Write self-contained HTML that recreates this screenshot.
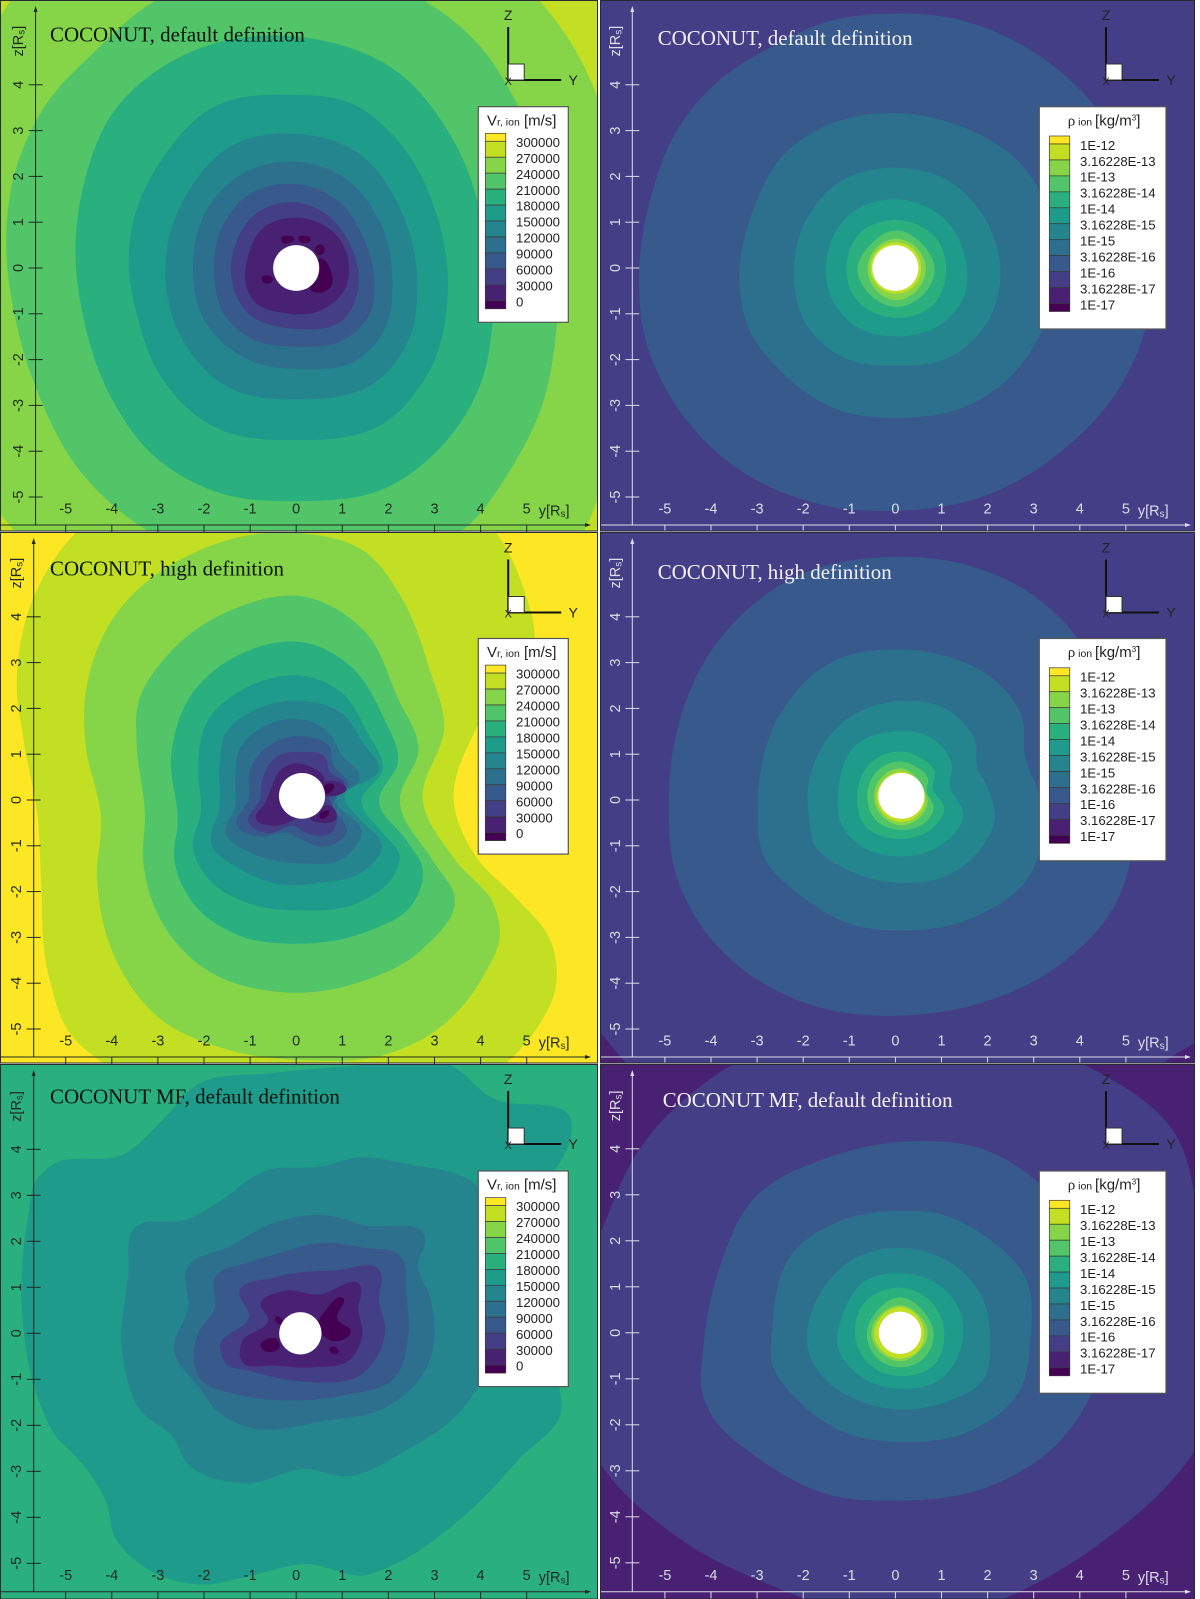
<!DOCTYPE html>
<html lang="en">
<head>
<meta charset="utf-8">
<title>COCONUT radial velocity and density contours</title>
<style>
html,body{margin:0;padding:0;background:#fff;}
svg{display:block;font-family:"Liberation Sans",sans-serif;}
</style>
</head>
<body>
<svg id="figure" xmlns="http://www.w3.org/2000/svg" width="1200" height="1599" viewBox="0 0 1200 1599"></svg>
<script>
const bandColors = ['#440154','#482173','#433e85','#38598c','#2d708e','#25858e','#1e9b8a','#2ab07f','#52c569','#86d549','#c2df23','#fde725'];
const xTickValues = [-5,-4,-3,-2,-1,0,1,2,3,4,5];
const zTickValues = [-5,-4,-3,-2,-1,0,1,2,3,4];
const vrLegendLabels = ['300000','270000','240000','210000','180000','150000','120000','90000','60000','30000','0'];
const rhoLegendLabels = ['1E-12','3.16228E-13','1E-13','3.16228E-14','1E-14','3.16228E-15','1E-15','3.16228E-16','1E-16','3.16228E-17','1E-17'];

/* Panel 1: Vr, COCONUT default definition. Contours are [y, z] in solar radii. */
const vrDefaultBackground = 10;
const vrDefaultBands = [9,8,7,6,5,4,3,2,1,0,0,0,0,0];
const vrDefaultContours = [
 [[5.27,5.85],[6.43,4.0],[6.9,1.5],[7.0,-1.5],[6.6,-4.8],[6.29,-5.65],[5.6,-6.5],[0,-7.6],[-5.6,-6.5],[-6.19,-5.65],[-6.44,-5.35],[-7,-3],[-7.2,0],[-7,3],[-6.44,5.44],[-6.19,5.85],[-5.6,6.4],[-2,7.6],[2,7.6],[4.5,6.6]],
 [[-3.03,5.85],[-4.4,4.7],[-5.36,3.67],[-6.1,2.09],[-6.29,0.44],[-6.1,-1.07],[-5.69,-2.5],[-4.61,-4.53],[-3.36,-5.65],[0,-6.6],[3.7,-5.65],[4.65,-4.4],[5.31,-3.07],[5.65,-1.3],[5.54,1.64],[4.79,3.59],[3.96,4.87],[2.75,5.85],[0,6.45]],
 [[0.13,5.04],[-2.28,4.72],[-3.94,3.44],[-4.65,1.64],[-4.79,0.29],[-4.65,-0.92],[-4.03,-2.8],[-3.11,-4.08],[-1.7,-4.9],[0.05,-5.09],[1.88,-4.83],[3.13,-3.92],[4.04,-2.42],[4.25,-1.29],[4.13,0.59],[3.38,2.84],[2.21,4.27]],
 [[-0.03,3.78],[-1.78,3.52],[-2.95,2.32],[-3.53,1.04],[-3.63,-0.02],[-3.44,-1.07],[-2.95,-2.35],[-1.78,-3.47],[-0.03,-3.76],[1.88,-3.4],[2.88,-2.27],[3.29,-0.39],[3.04,1.19],[2.21,2.77],[1.21,3.59]],
 [[0,2.93],[-1.36,2.69],[-2.36,1.64],[-2.84,-0.09],[-2.53,-1.44],[-1.53,-2.57],[0.05,-2.87],[1.71,-2.5],[2.46,-1.52],[2.63,-0.47],[2.3,1.19],[1.3,2.54]],
 [[0,2.32],[-1.11,2.09],[-1.95,1.26],[-2.24,0.06],[-2.03,-1.07],[-1.11,-1.97],[0.05,-2.21],[1.38,-1.97],[2.0,-1.14],[2.09,-0.39],[1.8,1.04],[0.97,2.02]],
 [[0,1.83],[-1.03,1.6],[-1.61,0.89],[-1.78,-0.09],[-1.53,-1.07],[-0.87,-1.59],[-0.03,-1.72],[1.05,-1.56],[1.63,-0.92],[1.7,-0.39],[1.46,0.66],[0.88,1.49]],
 [[0,1.43],[-0.87,1.19],[-1.32,0.51],[-1.41,-0.17],[-1.11,-0.92],[-0.03,-1.33],[1.05,-1.1],[1.34,-0.47],[1.13,0.59],[0.63,1.19]],
 [[0,1.1],[-0.7,0.89],[-1.07,0.14],[-1.11,-0.24],[-0.87,-0.77],[-0.28,-0.98],[0.47,-0.95],[1.05,-0.47],[0.97,0.59],[0.55,0.96]],
 [[-0.32,0.66],[-0.17,0.7],[-0.04,0.65],[-0.17,0.54],[-0.3,0.55]],
 [[0.05,0.67],[0.2,0.7],[0.32,0.62],[0.2,0.54],[0.08,0.58]],
 [[0.42,0.44],[0.52,0.52],[0.62,0.42],[0.52,0.28],[0.42,0.32]],
 [[0.51,0.21],[0.76,-0.09],[0.76,-0.39],[0.47,-0.54],[0.3,-0.47],[0.47,-0.24]],
 [[-0.75,-0.2],[-0.62,-0.16],[-0.5,-0.24],[-0.55,-0.32],[-0.72,-0.3]]
];

/* Panel 2: density, COCONUT default definition. */
const rhoDefaultBackground = 2;
const rhoDefaultBands = [3,4,5,6,7,8,9,10];
const rhoDefaultContours = [
 [[0.02,5.56],[-1.4,5.4],[-2.65,4.85],[-3.89,4.04],[-4.8,2.9],[-5.26,1.71],[-5.56,-0.17],[-5.43,-1.53],[-4.64,-3.18],[-3.06,-4.61],[-1.4,-5.21],[0.02,-5.3],[1.93,-4.98],[3.59,-4.01],[4.84,-2.65],[5.51,-0.92],[5.42,0.9],[4.34,3.51],[2.76,4.86],[1.51,5.39]],
 [[0.02,3.38],[-1.4,3.15],[-2.4,2.5],[-3.06,1.33],[-3.38,-0.32],[-3.19,-1.3],[-2.48,-2.26],[-1.23,-3.1],[0.02,-3.27],[1.51,-3.03],[2.68,-2.17],[3.34,-0.92],[3.5,-0.02],[3.34,1.18],[2.76,2.23],[1.51,3.06]],
 [[0.02,2.19],[-1.23,1.86],[-1.98,0.95],[-2.2,-0.25],[-1.98,-1.15],[-1.06,-1.98],[0.02,-2.13],[1.1,-1.98],[2.01,-1.15],[2.28,-0.1],[2.01,0.95],[1.1,1.93]],
 [[0.02,1.5],[-0.98,1.18],[-1.48,0.28],[-1.4,-0.62],[-0.82,-1.3],[0.02,-1.49],[0.93,-1.26],[1.51,-0.55],[1.53,0.13],[1.1,1.03]],
 [[0.02,1.05],[-0.73,0.8],[-1.06,0.05],[-0.9,-0.62],[0.02,-1.09],[0.85,-0.77],[1.1,-0.1],[0.93,0.58]],
 [[0.02,0.82],[-0.55,0.5],[-0.82,-0.02],[-0.55,-0.58],[0.02,-0.85],[0.6,-0.58],[0.85,-0.02],[0.6,0.5]],
 [[0.02,0.64],[-0.45,0.4],[-0.6,-0.02],[-0.45,-0.45],[0.02,-0.7],[0.5,-0.45],[0.66,-0.02],[0.5,0.4]],
 [[0.02,0.56],[-0.4,0.38],[-0.54,0],[-0.4,-0.38],[0.02,-0.56],[0.42,-0.38],[0.56,0],[0.42,0.38]]
];

/* Panel 3: Vr, COCONUT high definition. */
const vrHighBackground = 11;
const vrHighBands = [10,9,8,7,6,5,4,3,2,1,1,1,0,0];
const vrHighContours = [
 [[-4.73,5.89],[-5.61,4.62],[-6.06,2.44],[-5.9,1.23],[-5.61,-0.35],[-5.54,-1.62],[-5.36,-3.88],[-4.86,-5.16],[-4.28,-5.68],[0,-6.5],[4.63,-5.68],[5.21,-5.0],[5.64,-4.03],[5.54,-3.13],[4.71,-2.08],[3.96,-1.32],[3.42,-0.05],[3.96,1.68],[5.17,3.56],[4.96,4.54],[4.29,5.89],[0,6.65]],
 [[0.05,5.83],[-2.28,5.37],[-3.94,4.02],[-4.59,2.14],[-4.57,1.23],[-4.23,-0.42],[-4.32,-1.7],[-4.03,-3.2],[-2.95,-4.78],[-1.45,-5.46],[0.22,-5.68],[1.88,-5.57],[2.96,-5.08],[4.04,-3.88],[4.42,-2.9],[4.29,-2.3],[3.46,-1.32],[2.75,-0.05],[3.21,1.65],[2.88,2.89],[2.3,4.39],[1.46,5.44]],
 [[0.22,4.43],[-1.45,4.13],[-2.7,3.26],[-3.44,2.06],[-3.46,1.23],[-3.28,-0.35],[-3.32,-1.32],[-2.95,-2.6],[-2.03,-3.65],[-0.28,-4.2],[1.46,-3.95],[2.71,-3.28],[3.44,-2.15],[2.96,-1.32],[2.25,-0.05],[2.65,1.16],[2.21,2.21],[1.46,3.71]],
 [[0.22,3.43],[-1.28,3.15],[-2.28,2.29],[-2.71,1.01],[-2.57,-0.5],[-2.65,-1.25],[-2.2,-2.3],[-1.28,-2.94],[0.05,-3.14],[1.46,-2.9],[2.55,-2.23],[2.75,-1.55],[2.38,-0.87],[1.8,-0.05],[2.21,0.86],[1.88,1.83],[1.21,2.89]],
 [[0.22,2.7],[-1.11,2.44],[-1.95,1.68],[-2.13,0.78],[-2.07,-0.27],[-2.24,-1.02],[-1.86,-1.77],[-1.03,-2.26],[0.05,-2.41],[1.3,-2.26],[2.13,-1.62],[2.25,-1.25],[1.88,-0.72],[1.42,-0.05],[1.88,0.71],[1.55,1.46],[0.97,2.36]],
 [[0.22,2.16],[-0.87,1.98],[-1.53,1.46],[-1.66,0.78],[-1.66,-0.12],[-1.82,-1.02],[-1.28,-1.47],[-0.28,-1.85],[0.47,-1.81],[1.46,-1.55],[1.86,-1.02],[1.38,-0.42],[1.05,0.03],[1.8,0.71],[1.46,1.23],[0.97,1.91]],
 [[0.22,1.74],[-0.7,1.61],[-1.24,1.08],[-1.32,0.48],[-1.32,-0.12],[-1.53,-0.72],[-0.95,-1.17],[0.05,-1.38],[1.05,-1.25],[1.42,-0.72],[0.88,0.03],[1.38,0.48],[0.97,1.01],[0.72,1.46]],
 [[0.22,1.38],[-0.53,1.23],[-0.99,0.71],[-1.03,0.03],[-1.28,-0.57],[-0.78,-0.8],[-0.2,-0.72],[0.13,-0.87],[0.55,-1.02],[1.09,-0.72],[0.8,-0.05],[1.13,0.33],[0.8,0.78],[0.72,1.16]],
 [[0.13,1.05],[-0.45,0.93],[-0.74,0.41],[-0.78,0.03],[-1.03,-0.5],[-0.62,-0.72],[-0.03,-0.57],[0.22,-0.72],[0.8,-0.68],[0.88,-0.35],[0.72,0.11],[1.05,0.33],[0.72,0.63],[0.63,0.93]],
 [[-0.03,0.8],[-0.32,0.67],[-0.53,0.29],[-0.66,-0.05],[-0.87,-0.42],[-0.53,-0.56],[-0.03,-0.42],[0.63,0.33],[0.59,0.52],[0.34,0.71]],
 [[0.3,-0.38],[0.55,-0.5],[0.88,-0.38],[0.72,-0.12],[0.47,-0.2]],
 [[0.55,0.33],[0.95,0.38],[1.08,0.28],[0.72,0.08],[0.55,0.12]],
 [[0.6,0.3],[0.82,0.32],[0.72,0.16],[0.58,0.16]],
 [[0.5,-0.34],[0.72,-0.26],[0.66,-0.36],[0.52,-0.4]]
];

/* Panel 4: density, COCONUT high definition. */
const rhoHighBackground = 1;
const rhoHighBands = [2,3,4,5,6,7,8,9,10];
const rhoHighContours = [
 [[-7,6],[0,8],[7,6],[7.6,0],[7.1,-4.4],[6.59,-5.22],[6.0,-5.6],[5.0,-6.6],[0,-8],[-5,-6.6],[-5.97,-5.6],[-6.39,-5.08],[-7,-4.4],[-7.6,0]],
 [[0.1,5.31],[-2.23,4.84],[-3.89,3.41],[-4.8,1.23],[-4.92,-0.05],[-4.76,-1.62],[-4.31,-2.6],[-3.06,-3.88],[-1.4,-4.59],[0.02,-4.71],[1.93,-4.41],[3.59,-3.58],[4.76,-2.3],[5.17,-0.87],[4.84,1.38],[3.93,3.56],[2.76,4.62],[1.51,5.14]],
 [[0.1,3.29],[-1.4,3.0],[-2.48,1.91],[-2.98,0.03],[-2.81,-1.32],[-2.06,-2.08],[-1.06,-2.68],[0.1,-2.85],[1.6,-2.6],[2.93,-1.62],[3.18,-0.12],[2.8,1.01],[2.76,1.76],[2.1,2.66],[1.1,3.14]],
 [[0.1,2.16],[-1.06,1.76],[-1.86,0.48],[-1.86,-0.5],[-1.77,-0.95],[-1.06,-1.51],[0.1,-1.81],[1.1,-1.66],[1.93,-0.95],[2.14,-0.5],[1.93,0.41],[1.8,0.63],[1.72,1.31],[1.1,1.98]],
 [[0.02,1.5],[-0.9,1.16],[-1.23,0.26],[-1.15,-0.57],[-0.57,-1.1],[0.1,-1.23],[0.93,-1.02],[1.47,-0.35],[1.18,0.33],[1.22,0.78],[0.85,1.31]],
 [[0.1,1.06],[-0.57,0.78],[-0.83,0.11],[-0.65,-0.57],[0.1,-0.85],[0.85,-0.57],[1.06,-0.2],[0.81,0.26],[0.85,0.63],[0.6,0.89]],
 [[0.1,0.84],[-0.4,0.63],[-0.61,0.11],[-0.44,-0.42],[0.1,-0.65],[0.64,-0.5],[0.83,-0.16],[0.68,0.18],[0.7,0.48],[0.43,0.74]],
 [[0.13,0.69],[-0.37,0.4],[-0.46,0.03],[-0.33,-0.3],[0.13,-0.55],[0.6,-0.3],[0.7,-0.05],[0.62,0.22],[0.5,0.45]],
 [[0.13,0.62],[-0.3,0.38],[-0.41,0.06],[-0.28,-0.28],[0.13,-0.48],[0.54,-0.28],[0.64,0.06],[0.52,0.38]]
];

/* Panel 5: Vr, COCONUT MF default definition. */
const vrMfBackground = 7;
const vrMfBands = [6,5,4,3,2,1,0,0,0,0];
const vrMfContours = [
 [[1.06,5.8],[3.39,5.8],[4.22,5.13],[5.97,4.6],[5.8,3.85],[5.38,3.32],[4.05,2.57],[3.47,1.67],[3.89,1.29],[4.8,0.69],[5.72,-1.26],[5.76,-1.6],[4.8,-2.77],[3.55,-4.05],[2.14,-5.02],[1.56,-5.25],[0.22,-5.02],[-1.19,-5.32],[-1.94,-5.46],[-3.27,-5.1],[-3.94,-4.42],[-4.1,-3.74],[-4.77,-2.69],[-5.18,-2.28],[-5.6,-1.41],[-5.93,0.24],[-5.81,2.57],[-5.64,3.32],[-5.35,3.62],[-3.69,3.92],[-2.94,4.6],[-2.1,5.43],[-0.61,5.65]],
 [[1.47,3.83],[0.47,3.62],[-0.61,3.55],[-1.77,2.8],[-2.35,2.48],[-3.52,2.27],[-3.64,1.29],[-3.77,-0.44],[-3.35,-1.71],[-2.69,-2.24],[-2.35,-2.84],[-1.11,-3.26],[0.22,-2.95],[1.06,-3.11],[2.39,-2.54],[3.47,-1.79],[3.97,-1.11],[4.22,0.69],[3.97,3.17],[2.3,3.7]],
 [[0.64,2.57],[-0.61,2.35],[-1.44,1.89],[-2.35,1.44],[-2.35,0.54],[-2.65,-0.36],[-2.1,-1.19],[-1.69,-1.71],[-1.11,-2.02],[0.64,-1.9],[1.89,-1.64],[2.8,-0.81],[2.89,0.84],[2.64,1.44],[2.8,2.08],[1.47,2.35]],
 [[0.64,1.97],[-0.61,1.67],[-1.11,1.52],[-1.73,1.26],[-1.77,0.54],[-2.15,-0.06],[-2.1,-0.96],[-1.27,-1.34],[-0.44,-1.45],[1.06,-1.34],[2.14,-0.96],[2.43,-0.06],[2.39,0.84],[2.26,1.67],[1.47,1.86]],
 [[1.8,1.37],[0.89,1.37],[-0.44,1.22],[-1.23,0.9],[-1.02,0.39],[-1.65,-0.29],[-1.52,-0.66],[-1.02,-0.81],[0.06,-1.04],[1.47,-0.85],[1.93,0.09],[1.8,0.69]],
 [[1.39,1.03],[0.47,0.84],[-0.27,0.92],[-0.77,0.62],[-0.61,0.32],[-1.19,-0.21],[-1.19,-0.59],[-0.44,-0.7],[0.39,-0.74],[1.14,-0.59],[1.43,-0.06],[1.35,0.54]],
 [[1.01,0.77],[0.64,0.5],[0.47,0.17],[0.89,-0.17],[1.18,0.02],[0.89,0.32]],
 [[-0.77,-0.29],[-0.4,-0.14],[-0.36,-0.29],[-0.69,-0.38]],
 [[0.72,-0.32],[0.85,-0.3],[0.92,-0.4],[0.78,-0.44]],
 [[-0.44,0.36],[-0.3,0.3],[-0.28,0.2],[-0.44,0.26]]
];

/* Panel 6: density, COCONUT MF default definition. */
const rhoMfBackground = 1;
const rhoMfBands = [2,3,4,5,6,7,8,9,10];
const rhoMfContours = [
 [[-3.6,5.79],[-5.56,3.98],[-6.39,2.18],[-7.22,-0.08],[-6.39,-2.86],[-4.73,-4.44],[-1.98,-5.78],[0.02,-6.47],[2.35,-5.78],[4.43,-4.59],[6.59,-2.41],[7.42,-0.08],[6.59,2.63],[6.09,4.29],[4.18,5.79],[0.27,6.69]],
 [[0.27,4.16],[-1.4,3.83],[-3.06,2.93],[-3.81,1.43],[-4.18,-0.45],[-4.21,-1.2],[-4.06,-1.65],[-2.9,-2.78],[-1.4,-3.53],[0.02,-3.65],[1.93,-3.38],[3.59,-2.33],[4.26,-1.28],[4.34,0.68],[3.43,2.93],[1.93,3.98]],
 [[0.1,2.65],[-1.06,2.48],[-2.23,1.73],[-2.67,0.08],[-2.67,-0.68],[-2.15,-1.43],[-1.06,-2.18],[0.18,-2.37],[1.51,-2.18],[2.68,-1.28],[2.93,-0.08],[2.85,1.13],[1.93,2.11],[0.93,2.59]],
 [[0.18,1.84],[-0.82,1.65],[-1.56,0.98],[-1.84,-0.53],[-1.48,-1.05],[-0.73,-1.5],[0.1,-1.67],[1.1,-1.5],[1.93,-0.98],[2.05,-0.23],[1.85,0.83],[1.1,1.58]],
 [[0.18,1.29],[-0.65,1.13],[-1.15,0.38],[-1.25,-0.3],[-0.9,-0.83],[0.1,-1.22],[1.01,-0.98],[1.43,-0.3],[1.43,0.38],[0.93,1.05]],
 [[0.1,0.98],[-0.65,0.68],[-0.86,-0.15],[-0.57,-0.68],[0.1,-0.94],[0.85,-0.68],[1.06,-0.08],[0.77,0.68]],
 [[0.1,0.77],[-0.42,0.45],[-0.62,-0.02],[-0.4,-0.55],[0.1,-0.75],[0.62,-0.55],[0.83,-0.02],[0.62,0.45]],
 [[0.1,0.6],[-0.32,0.4],[-0.52,-0.02],[-0.33,-0.42],[0.1,-0.62],[0.5,-0.42],[0.7,-0.02],[0.5,0.4]],
 [[0.1,0.56],[-0.3,0.36],[-0.46,0],[-0.3,-0.38],[0.1,-0.56],[0.5,-0.38],[0.62,0],[0.48,0.36]]
];

const panels = [
 {key:'vr-default', title:'COCONUT, default definition', titleX:50, titleY:41.5, kind:'vr', bg:vrDefaultBackground, bands:vrDefaultBands, contours:vrDefaultContours, sun:[0,0,0.5],
  left:0, top:1, w:598, h:530, x0:296.2, z0:268, uz:45.8, axisX:35.6, axisY:525, legX:478.3, legY:106.7, triX:508.2, triY:80, rowShift:0},
 {key:'rho-default', title:'COCONUT, default definition', titleX:657.7, titleY:45, kind:'rho', bg:rhoDefaultBackground, bands:rhoDefaultBands, contours:rhoDefaultContours, sun:[0,0,0.5],
  left:600, top:1, w:595, h:530, x0:895.4, z0:268, uz:45.8, axisX:632.3, axisY:525, legX:1039.3, legY:106.7, triX:1106, triY:80, rowShift:0},
 {key:'vr-high', title:'COCONUT, high definition', titleX:50, titleY:575.5, kind:'vr', bg:vrHighBackground, bands:vrHighBands, contours:vrHighContours, sun:[0.126,0.09,0.5],
  left:0, top:533, w:598, h:530, x0:296.2, z0:800, uz:45.8, axisX:33.7, axisY:1057, legX:478.3, legY:638.5, triX:508.2, triY:612.5, rowShift:532},
 {key:'rho-high', title:'COCONUT, high definition', titleX:657.7, titleY:579, kind:'rho', bg:rhoHighBackground, bands:rhoHighBands, contours:rhoHighContours, sun:[0.13,0.09,0.5],
  left:600, top:533, w:595, h:530, x0:895.4, z0:800, uz:45.8, axisX:632.3, axisY:1057, legX:1039.3, legY:638.5, triX:1106, triY:612.5, rowShift:532},
 {key:'vr-mf', title:'COCONUT MF, default definition', titleX:50, titleY:1103.3, kind:'vr', bg:vrMfBackground, bands:vrMfBands, contours:vrMfContours, sun:[0.09,0,0.46],
  left:0, top:1065, w:598, h:534, x0:296.2, z0:1333.3, uz:46, axisX:33.7, axisY:1591.7, legX:478.3, legY:1171, triX:508.2, triY:1144, rowShift:1064},
 {key:'rho-mf', title:'COCONUT MF, default definition', titleX:662.7, titleY:1106.8, kind:'rho', bg:rhoMfBackground, bands:rhoMfBands, contours:rhoMfContours, sun:[0.1,0,0.46],
  left:600, top:1065, w:595, h:534, x0:895.4, z0:1332.8, uz:46, axisX:632.3, axisY:1591.7, legX:1039.3, legY:1171, triX:1106, triY:1144, rowShift:1064}
];

const NS = 'http://www.w3.org/2000/svg';
const X_UNIT = 46.1;
const figure = document.getElementById('figure');

function make(tag, attrs, parent, text) {
  const el = document.createElementNS(NS, tag);
  for (const k in attrs) el.setAttribute(k, attrs[k]);
  if (text !== undefined) el.textContent = text;
  parent.appendChild(el);
  return el;
}

/* Closed spline through the points with chord-weighted (Bessel) tangents, so
   unevenly spaced points still give round curves without overshoot. */
function smoothClosedPath(points) {
  const n = points.length;
  const seg = points.map((p, i) => {
    const q = points[(i + 1) % n];
    return Math.max(Math.hypot(q[0] - p[0], q[1] - p[1]), 0.01);
  });
  const tangents = points.map((p, i) => {
    const prev = points[(i - 1 + n) % n], next = points[(i + 1) % n];
    const d0 = seg[(i - 1 + n) % n], d1 = seg[i];
    const tx = (d1 * (p[0] - prev[0]) / d0 + d0 * (next[0] - p[0]) / d1) / (d0 + d1);
    const ty = (d1 * (p[1] - prev[1]) / d0 + d0 * (next[1] - p[1]) / d1) / (d0 + d1);
    const len = Math.max(Math.hypot(tx, ty), 0.0001);
    return [tx / len, ty / len];
  });
  let d = 'M' + points[0][0].toFixed(1) + ' ' + points[0][1].toFixed(1);
  for (let i = 0; i < n; i++) {
    const j = (i + 1) % n, h = seg[i] / 3;
    const c1x = points[i][0] + tangents[i][0] * h, c1y = points[i][1] + tangents[i][1] * h;
    const c2x = points[j][0] - tangents[j][0] * h, c2y = points[j][1] - tangents[j][1] * h;
    d += 'C' + c1x.toFixed(1) + ' ' + c1y.toFixed(1) + ' ' + c2x.toFixed(1) + ' ' + c2y.toFixed(1) + ' ' + points[j][0].toFixed(1) + ' ' + points[j][1].toFixed(1);
  }
  return d + 'Z';
}

function drawPanel(p) {
  const xScale = v => p.x0 + X_UNIT * v;
  const zScale = v => p.z0 - p.uz * v;
  const light = p.kind === 'rho';
  const axisColor = light ? '#dcdde8' : '#1f2a20';

  const g = make('g', {}, figure);
  
  

  const defs = make('defs', {}, g);
  const clip = make('clipPath', {id: 'clip-' + p.key}, defs);
  make('rect', {x: p.left, y: p.top, width: p.w, height: p.h}, clip);

  const plot = make('g', {'clip-path': 'url(#clip-' + p.key + ')'}, g);
  
  

  const bg = make('rect', {x: p.left, y: p.top, width: p.w, height: p.h, fill: bandColors[p.bg]}, plot);
  
  

  p.contours.forEach((contour, i) => {
    const pts = contour.map(c => [xScale(c[0]), zScale(c[1])]);
    const band = make('path', {d: smoothClosedPath(pts), fill: bandColors[p.bands[i]]}, plot);
    
    
  });

  const sun = make('ellipse', {cx: xScale(p.sun[0]), cy: zScale(p.sun[1]), rx: p.sun[2] * X_UNIT, ry: p.sun[2] * p.uz, fill: '#fff'}, plot);
  
  

  /* Axes */
  const xAxis = make('line', {x1: p.left, x2: p.left + 585, y1: p.axisY, y2: p.axisY, stroke: axisColor, 'stroke-width': 1}, g);
  
  
  const xHead = make('path', {d: 'M' + (p.left + 591) + ' ' + p.axisY + 'l-6 -2v4z', fill: axisColor}, g);
  
  
  const yTop = p.top + 5;
  const yAxis = make('line', {x1: p.axisX, x2: p.axisX, y1: yTop + 5, y2: p.axisY, stroke: axisColor, 'stroke-width': 1}, g);
  
  
  const yHead = make('path', {d: 'M' + p.axisX + ' ' + yTop + 'l-2 6h4z', fill: axisColor}, g);
  
  

  xTickValues.forEach(v => {
    const tick = make('line', {x1: xScale(v), x2: xScale(v), y1: p.axisY, y2: p.axisY + 7, stroke: axisColor, 'stroke-width': 1}, g);
    
    
    const label = make('text', {x: xScale(v), y: p.axisY - 11.5, 'text-anchor': 'middle', 'font-size': 14.5, fill: axisColor}, g, String(v));
    
    
  });
  zTickValues.forEach(v => {
    const tick = make('line', {x1: p.axisX - 7, x2: p.axisX + 7, y1: zScale(v), y2: zScale(v), stroke: axisColor, 'stroke-width': 1}, g);
    
    
    const lx = p.axisX - 12.5, ly = zScale(v);
    const label = make('text', {x: lx, y: ly, 'text-anchor': 'middle', 'font-size': 14.5, fill: axisColor, transform: 'rotate(-90 ' + lx + ' ' + ly + ')'}, g, String(v));
    
    
  });

  const yTitle = make('text', {x: xScale(5) + 12, y: p.axisY - 9.5, 'font-size': 14.5, fill: axisColor}, g);
  
  
  make('tspan', {}, yTitle, 'y[R');
  make('tspan', {'font-size': 10, dy: 1.5}, yTitle, 's');
  make('tspan', {dy: -1.5}, yTitle, ']');

  const tx = p.axisX - 12.5, ty = p.z0 - 211.5;
  const zTitle = make('text', {x: tx, y: ty, 'font-size': 14.5, fill: axisColor, transform: 'rotate(-90 ' + tx + ' ' + ty + ')'}, g);
  
  
  make('tspan', {}, zTitle, 'z[R');
  make('tspan', {'font-size': 10, dy: 1.5}, zTitle, 's');
  make('tspan', {dy: -1.5}, zTitle, ']');

  /* Title */
  const title = make('text', {x: p.titleX, y: p.titleY, 'font-size': 20.95, 'font-family': '"Liberation Serif",serif', fill: light ? '#f2f2f6' : '#0a140e'}, g, p.title);
  
  

  /* Orientation triad */
  const triad = make('g', {stroke: '#111', 'stroke-width': 2, fill: 'none'}, g);
  
  
  make('line', {x1: p.triX, x2: p.triX, y1: p.triY - 53, y2: p.triY}, triad);
  make('line', {x1: p.triX, x2: p.triX + 53, y1: p.triY, y2: p.triY}, triad);
  make('rect', {x: p.triX, y: p.triY - 16, width: 16, height: 16, fill: '#fff', stroke: '#333', 'stroke-width': 1}, triad);
  const triText = {'font-size': 14, fill: '#222', stroke: 'none', 'text-anchor': 'middle'};
  make('text', Object.assign({x: p.triX, y: p.triY - 60}, triText), triad, 'Z');
  make('text', Object.assign({x: p.triX + 65, y: p.triY + 5}, triText), triad, 'Y');
  make('text', Object.assign({x: p.triX, y: p.triY + 5}, triText, {'font-size': 11}), triad, 'X');

  /* Legend */
  const isVr = p.kind === 'vr';
  const legend = make('g', {}, g);
  
  
  const boxW = isVr ? 90 : 126.7;
  const boxH = isVr ? 215.6 : 222.3;
  make('rect', {x: p.legX, y: p.legY, width: boxW, height: boxH, fill: '#fff', stroke: '#555', 'stroke-width': 1.2}, legend);

  const legendTitle = make('text', {'font-size': 15, fill: '#222', x: p.legX + (isVr ? 8.7 : 28.4), y: p.legY + 18.7}, legend);
  
  
  if (isVr) {
    make('tspan', {}, legendTitle, 'V');
    make('tspan', {'font-size': 10.5}, legendTitle, 'r, ion');
    make('tspan', {}, legendTitle, ' [m/s]');
  } else {
    make('tspan', {'font-family': '"Liberation Serif",serif', 'font-size': 15}, legendTitle, 'ρ');
    make('tspan', {'font-size': 10.5}, legendTitle, ' ion ');
    make('tspan', {}, legendTitle, '[kg/m');
    make('tspan', {'font-size': 8, dy: -5}, legendTitle, '3');
    make('tspan', {dy: 5}, legendTitle, ']');
  }

  const swX = p.legX + (isVr ? 7 : 10);
  const swW = 20.5;
  const swTop = p.legY + (isVr ? 26.6 : 29.3);
  const unit = 15.95;
  const labels = isVr ? vrLegendLabels : rhoLegendLabels;
  for (let i = 0; i < 12; i++) {
    const h = (i === 0 || i === 11) ? 8 : unit;
    const yy = i === 0 ? swTop : swTop + 8 + (i - 1) * unit;
    const sw = make('rect', {x: swX, y: yy, width: swW, height: h, fill: bandColors[11 - i], stroke: '#3a3a3a', 'stroke-width': 0.7}, legend);
    
    
  }
  labels.forEach((txt, i) => {
    const ly = swTop + 8 + i * unit + (isVr ? 5.6 : 5.8);
    const lab = make('text', {x: p.legX + (isVr ? 37.7 : 40.7), y: ly, 'font-size': 13.2, fill: '#222'}, legend, txt);
    
    
  });

  const frame = make('rect', {x: p.left + 0.5, y: p.top - 0.5, width: p.w - 1, height: p.h + 0.5, fill: 'none', stroke: '#2a2a33', 'stroke-width': 1}, g);
  
  
}

panels.forEach(drawPanel);
</script>
</body>
</html>
